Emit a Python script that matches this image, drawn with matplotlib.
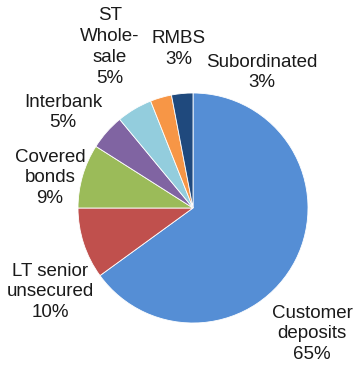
import matplotlib
matplotlib.use("Agg")
import matplotlib.pyplot as plt

# Funding mix (percent of total)
categories = ["Customer\ndeposits", "LT senior\nunsecured", "Covered\nbonds",
              "Interbank", "ST\nWhole-\nsale", "RMBS", "Subordinated"]
shares = [65, 10, 9, 5, 5, 3, 3]
colors = ["#558ED5", "#C0504D", "#9BBB59", "#8064A2", "#93CDDD", "#F79646", "#1F497D"]

# Label block centres in figure pixels (x from left, y from top)
label_px = [(312, 334), (50, 292), (50, 178), (63, 112.5), (110, 47), (179, 49), (262, 72.5)]

W, H = 355, 365
fig = plt.figure(figsize=(W / 100, H / 100), dpi=100)
ax = fig.add_axes([0, 0, 1, 1])

cx, cy, r = 193, H - 208, 115
ax.pie(shares, colors=colors, startangle=90, counterclock=False,
       center=(cx, cy), radius=r, frame=True,
       wedgeprops=dict(edgecolor="white", linewidth=0.6))
ax.set_xlim(0, W)
ax.set_ylim(0, H)
ax.set_aspect("equal")
ax.axis("off")

for name, val, (px, py) in zip(categories, shares, label_px):
    ax.text(px, H - py, f"{name}\n{val}%", ha="center", va="center",
            fontsize=13.5, family="Liberation Sans", color="#1a1a1a",
            linespacing=1.3, multialignment="center")

fig.savefig("out.png", dpi=100)
